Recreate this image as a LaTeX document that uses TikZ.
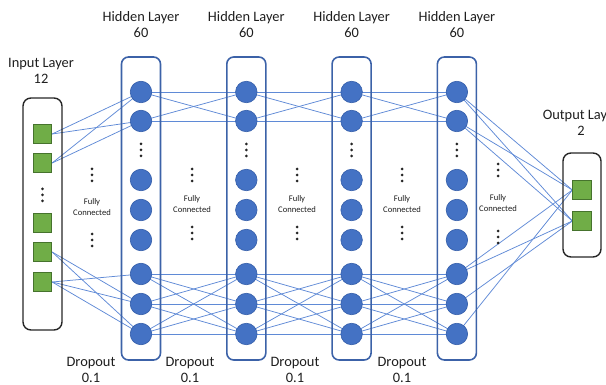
\documentclass[tikz,border=0pt]{standalone}
\usepackage{fontspec}
\setmainfont{Carlito}
\usetikzlibrary{backgrounds}

\definecolor{neuron}{RGB}{68,114,196}
\definecolor{neuronedge}{RGB}{52,94,170}
\definecolor{layerframe}{RGB}{60,98,168}
\definecolor{wire}{RGB}{95,138,214}
\definecolor{unit}{RGB}{112,173,71}
\definecolor{unitedge}{RGB}{70,115,45}
\definecolor{labeltext}{RGB}{30,30,30}

\tikzset{
  neuronnode/.style={circle, fill=neuron, draw=neuronedge, line width=0.6pt,
    minimum size=21.5pt, inner sep=0pt},
  unitnode/.style={rectangle, fill=unit, draw=unitedge, line width=0.8pt,
    minimum size=18.5pt, inner sep=0pt},
  hiddenframe/.style={draw=layerframe, line width=1.6pt, rounded corners=7pt},
  ioframe/.style={draw=black!85, line width=1.4pt, rounded corners=8pt},
  wireline/.style={draw=wire, line width=0.75pt},
  titletext/.style={font=\fontsize{14.4}{16}\selectfont, text=labeltext,
    align=center, inner sep=0pt},
  smalltext/.style={font=\fontsize{8.6}{10.5}\selectfont, text=labeltext,
    align=center, inner sep=0pt},
  dotmark/.style={fill=black!85, draw=none}
}

% three stacked dots centred at a point
\newcommand{\vdotsat}[2]{%
  \fill[dotmark] (#1,#2-6) circle (1.5pt);
  \fill[dotmark] (#1,#2) circle (1.5pt);
  \fill[dotmark] (#1,#2+6) circle (1.5pt);
}

\begin{document}
\begin{tikzpicture}[x=1pt,y=-1pt]
\useasboundingbox (0,0) rectangle (606,385);
\clip (0,0) rectangle (606,385);

% ---- input layer
\draw[ioframe] (23,98) rectangle (62,330);
\foreach \k/\yy in {1/134,2/163,3/223,4/252,5/282}
  \node[unitnode] (in\k) at (42.5,\yy) {};
\vdotsat{42.5}{195}
\node[titletext] (intitle) at (41,71) {Input Layer\\12};

% ---- hidden layers
\foreach \i in {1,...,4} {
  \pgfmathsetmacro{\cx}{141+105.3*(\i-1)}
  \draw[hiddenframe] (\cx-19.5,57) rectangle (\cx+19.5,360);
  \foreach \k/\yy in {1/92,2/121,3/180,4/210,5/240,6/274,7/304,8/334}
    \node[neuronnode] (h\i-\k) at (\cx,\yy) {};
  \vdotsat{\cx}{150}
  \node[titletext] (htitle\i) at (\cx,25) {Hidden Layer\\60};
}

% ---- output layer
\draw[ioframe] (563,153) rectangle (601,257);
\node[unitnode] (out1) at (582,190) {};
\node[unitnode] (out2) at (582,221) {};
\node[titletext] (outtitle) at (581,123) {Output Layer\\2};

% ---- "Fully Connected" annotations between layers
\foreach \gx/\up/\lo/\ty [count=\g] in {92/175/240/207, 192/175/233/204,
    297/175/233/204, 402/175/233/204, 498/170/237/203} {
  \vdotsat{\gx}{\up}
  \vdotsat{\gx}{\lo}
  \node[smalltext] (fc\g) at (\gx,\ty) {Fully\\Connected};
}

% ---- dropout labels
\foreach \dx [count=\d] in {91,190,295,402}
  \node[titletext] (drop\d) at (\dx,370) {Dropout\\0.1};

% ---- connections
\begin{pgfonlayer}{background}
  % input -> first hidden layer
  \foreach \a/\b in {1/1,1/2,2/1,2/2,4/7,4/8,5/6,5/7,5/8}
    \draw[wireline] (in\a.east) -- (h1-\b.center);
  % hidden -> hidden
  \foreach \i [evaluate=\i as \j using int(\i+1)] in {1,2,3} {
    \foreach \a in {1,2}
      \foreach \b in {1,2}
        \draw[wireline] (h\i-\a.center) -- (h\j-\b.center);
    \foreach \a in {6,7,8}
      \foreach \b in {6,7,8}
        \draw[wireline] (h\i-\a.center) -- (h\j-\b.center);
  }
  % last hidden layer -> output
  \foreach \a/\b in {1/1,1/2,2/1,2/2,6/1,6/2,7/2,8/1}
    \draw[wireline] (h4-\a.center) -- (out\b.west);
\end{pgfonlayer}
\end{tikzpicture}
\end{document}
